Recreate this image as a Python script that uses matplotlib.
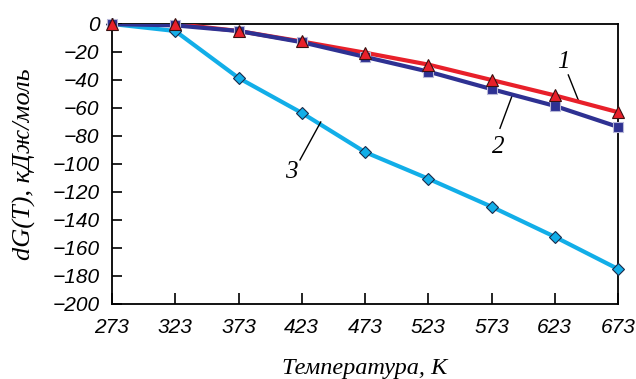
import numpy as np
import matplotlib.pyplot as plt

# Temperature, K
temps = [273, 323, 373, 423, 473, 523, 573, 623, 673]
# dG(T), kJ/mol for curves 1, 2, 3
dg_1 = [0, 0, -5, -12.5, -20.5, -29, -40, -51, -63]
dg_2 = [0, -1, -5, -13, -23.5, -34, -46.5, -58.5, -73.5]
dg_3 = [0, -5, -38.5, -63.5, -91.5, -110.5, -130.5, -152, -175]

y_ticks = list(range(0, -201, -20))

RED = "#e8202a"
NAVY = "#2e3192"
CYAN = "#12aee8"

TICK_FONT = dict(family="Liberation Sans", style="italic", size=15)
SERIF_IT = dict(family="Liberation Serif", style="italic")

fig = plt.figure(figsize=(6.36, 3.79), dpi=100)
ax = fig.add_axes([0.1761, 0.1979, 0.7956, 0.7388])

# curve 3
ax.plot(temps, dg_3, color=CYAN, lw=3, solid_joinstyle="round", zorder=2)
ax.plot(temps, dg_3, ls="none", marker="D", ms=6.5, mfc=CYAN, mec="#1a2a4a", mew=0.8, zorder=5, clip_on=False)
# curve 1 line below curve 2
ax.plot(temps, dg_1, color=RED, lw=3, zorder=3)
ax.plot(temps, dg_2, color=NAVY, lw=3, zorder=4)
ax.plot(temps, dg_2, ls="none", marker="s", ms=7.5, mfc=NAVY, mec="#b8b8d8", mew=0.8, zorder=5, clip_on=False)
ax.plot(temps, dg_1, ls="none", marker="^", ms=9, mfc=RED, mec="#3a1010", mew=0.8, zorder=6, clip_on=False)

ax.set_xlim(273, 673)
ax.set_ylim(-200, 0)
ax.set_xticks(temps)
ax.set_yticks(y_ticks)
ax.set_xticklabels([str(t) for t in temps], **TICK_FONT)
ax.set_yticklabels([str(v).replace("-", "\u2212") for v in y_ticks], **TICK_FONT)
ax.tick_params(axis="x", direction="in", length=8, width=1.2, pad=10)
ax.tick_params(axis="y", direction="in", length=7, width=1.2, pad=9)
for s in ax.spines.values():
    s.set_linewidth(1.3)

ax.set_xlabel("Температура, К", fontsize=17.5, labelpad=15, **SERIF_IT)
ax.set_ylabel("dG(T), кДж/моль", fontsize=19, labelpad=12, **SERIF_IT)

# curve labels with leader lines
ax.text(629.5, -26.9, "1", fontsize=18, ha="center", va="center", **SERIF_IT)
ax.plot([633.7, 641.6], [-36.4, -54.3], color="black", lw=1)
ax.text(578.4, -87.6, "2", fontsize=18, ha="center", va="center", **SERIF_IT)
ax.plot([579.7, 589.5], [-74.5, -50.7], color="black", lw=1)
ax.text(415, -105.5, "3", fontsize=18, ha="center", va="center", **SERIF_IT)
ax.plot([421.6, 438], [-97.1, -70], color="black", lw=1)

fig.savefig("out.png", dpi=100)
